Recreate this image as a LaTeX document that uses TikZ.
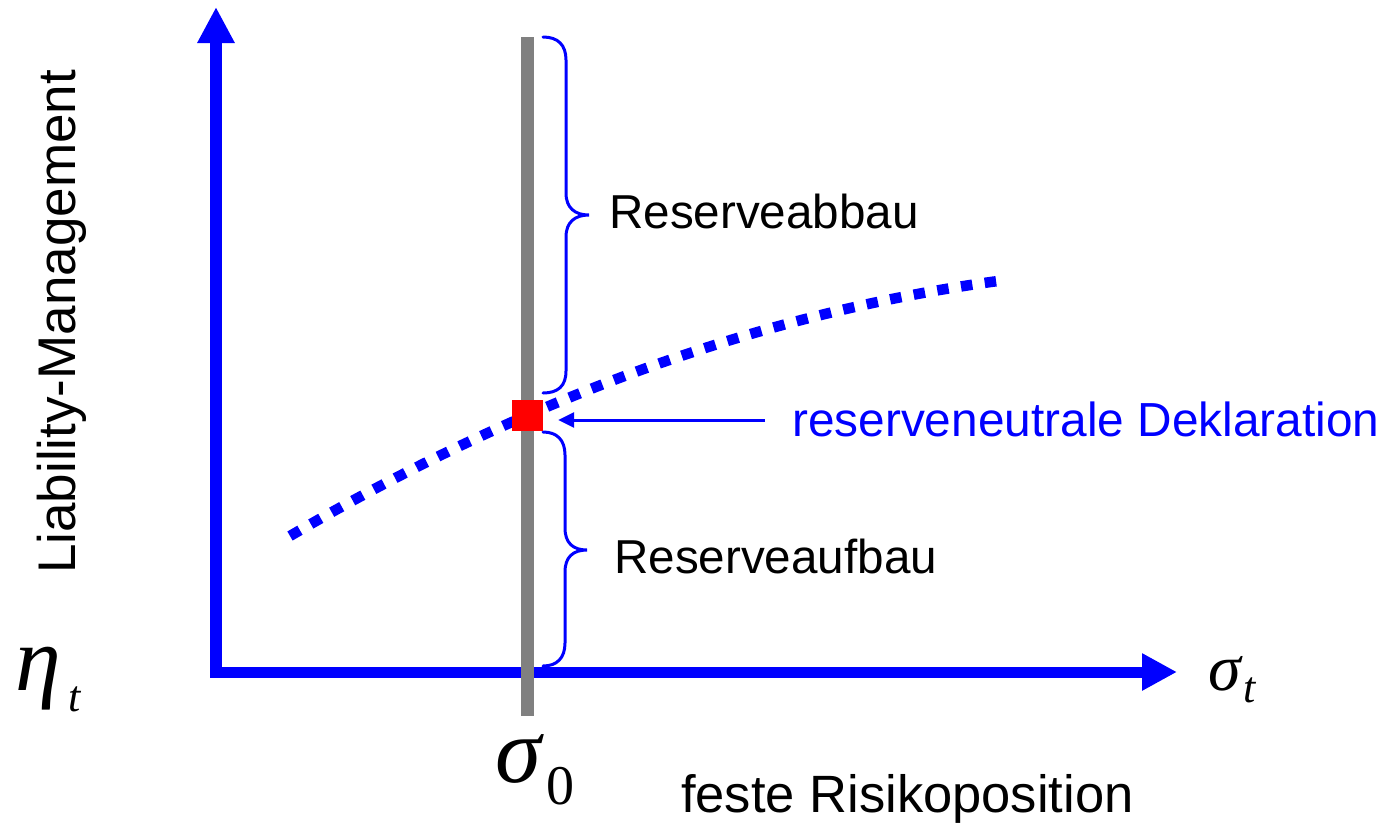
\documentclass[tikz,border=0pt]{standalone}
\usepackage{fontspec}
\setmainfont{Liberation Sans}
\newfontfamily\greekserif{Liberation Serif}
\usetikzlibrary{arrows.meta}
\begin{document}
\begin{tikzpicture}[x=1pt,y=-1pt,
  txt/.style={inner sep=0pt, anchor=base west},
  axis/.style={draw=blue, line width=#1},
  gline/.style={draw=gray, line width=13pt},
  curvestyle/.style={draw=blue, line width=10.5pt, dash pattern=on 11.5pt off 12.5pt},
  bracestyle/.style={draw=blue, line width=3pt, line cap=round},
  ptr/.style={draw=blue, line width=3pt, -{Triangle[length=16pt,width=15pt]}},
  mth/.style={txt, font=\greekserif\itshape\fontsize{#1}{#1}\selectfont}
]
\useasboundingbox (0,0) rectangle (1385,828);

% axes
\coordinate (O) at (216,677.5);
\coordinate (ytip) at (216,7);
\coordinate (O2) at (210,672);
\coordinate (xtip) at (1177,672);
\draw[axis=12pt, -{Triangle[length=36pt,width=35pt]}] (O) -- (ytip);
\draw[axis=11pt, -{Triangle[length=35pt,width=35pt]}] (O2) -- (xtip);

% gray vertical line
\coordinate (gtop) at (527.5,37);
\coordinate (gbot) at (527.5,716);
\draw[gline] (gtop) -- (gbot);

% dotted curve
\coordinate (c0) at (290,536);
\coordinate (c3) at (998,281);
\draw[curvestyle] (c0) .. controls (526.7,398) and (762.3,313) .. (c3);

% upper brace
\draw[bracestyle] (543,37) .. controls (558,37) and (566,45) .. (566,60)
  -- (566,193) .. controls (566,208) and (575,215) .. (589,215)
  .. controls (575,215) and (566,222) .. (566,237)
  -- (566,371) .. controls (566,386) and (558,393) .. (543,393);

% lower brace
\draw[bracestyle] (543,432) .. controls (557,432) and (565,440) .. (565,455)
  -- (565,528) .. controls (565,543) and (573,550) .. (587,550)
  .. controls (573,550) and (565,557) .. (565,572)
  -- (565,643) .. controls (565,658) and (557,666) .. (543,666);

% red square
\node[fill=red, minimum size=31pt, inner sep=0pt] (rsv) at (527.5,415.5) {};

% labels
\node[txt, font=\fontsize{47.6}{50}\selectfont] (abbau) at (609,228) {Reserveabbau};
\node[txt, font=\fontsize{47.6}{50}\selectfont] (aufbau) at (614,573) {Reserveaufbau};
\node[txt, font=\fontsize{47.8}{50}\selectfont, text=blue] (neutral) at (792,436) {reserveneutrale Deklaration};
\node[txt, font=\fontsize{52.5}{56}\selectfont] (feste) at (681,812) {feste Risikoposition};
\node[txt, rotate=90, font=\fontsize{53}{56}\selectfont] (liab) at (75,574) {Liability-Management};

% arrow
\coordinate (astart) at (765,420);
\draw[ptr, shorten >=15pt] (astart) -- (astart -| rsv.east);

% math labels
\node[mth=92] (eta) at (15,690) {η};
\node[mth=44] (etat) at (68,711) {t};
\node[mth=66] (sigt) at (1208,690) {σ};
\node[mth=44] (sigtt) at (1243,702) {t};
\node[mth=93] (sig0) at (495,782) {σ};
\node[txt, font=\greekserif\fontsize{56}{56}\selectfont] (sig00) at (546,804) {0};
\end{tikzpicture}
\end{document}
